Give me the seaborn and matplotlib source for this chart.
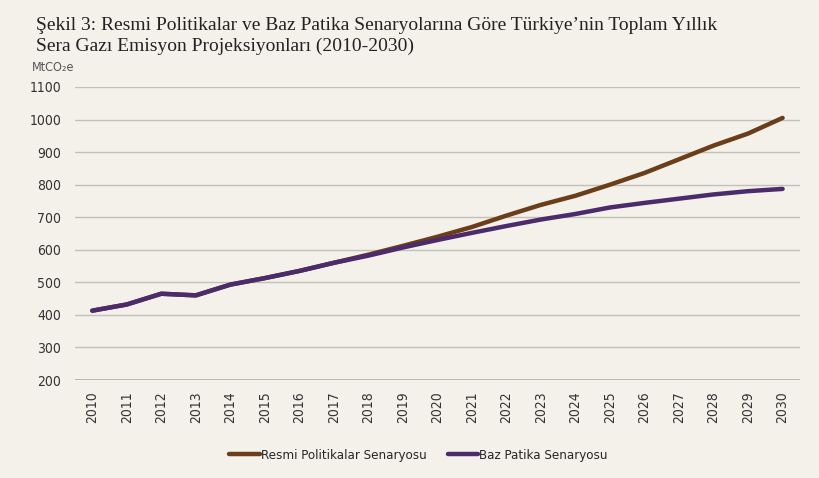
import matplotlib
matplotlib.use("Agg")
import matplotlib.pyplot as plt
import pandas as pd
import seaborn as sns

# Data (MtCO2e)
years = list(range(2010, 2031))
resmi = [413, 432, 465, 460, 493, 513, 535, 560, 585, 612, 640,
         670, 705, 738, 766, 800, 836, 878, 920, 957, 1005]
baz = [413, 432, 465, 460, 493, 513, 535, 560, 582, 607, 630,
       652, 673, 693, 710, 730, 744, 757, 770, 780, 787]
series_names = ['Resmi Politikalar Senaryosu', 'Baz Patika Senaryosu']
y_ticks = [200, 300, 400, 500, 600, 700, 800, 900, 1000, 1100]

bg = '#f3f1e9'
colors = ['#6b3d18', '#4b2b6b']
sns.set_theme(style='white', rc={'figure.facecolor': bg, 'axes.facecolor': bg})
plt.rcParams['font.family'] = ['DejaVu Sans']
plt.rcParams['font.stretch'] = 'condensed'

df = pd.DataFrame({
    'year': years * 2,
    'value': resmi + baz,
    'scenario': [series_names[0]] * len(years) + [series_names[1]] * len(years),
})

fig = plt.figure(figsize=(8.19, 4.78), dpi=100)
ax = fig.add_axes([0.0916, 0.205, 0.885, 0.613])

sns.lineplot(data=df, x='year', y='value', hue='scenario', hue_order=series_names,
             palette=colors, linewidth=3.2, ax=ax, legend=False,
             solid_capstyle='round')

ax.set_xlim(2009.5, 2030.5)
ax.set_ylim(200, 1100)
ax.set_yticks(y_ticks)
ax.set_xticks(years)
ax.set_xticklabels([str(y) for y in years], rotation=90, fontsize=10, color='#333333')
ax.set_yticklabels([str(v) for v in y_ticks], fontsize=10, color='#333333')
ax.tick_params(axis='x', length=0, pad=8)
ax.tick_params(axis='y', length=0, pad=10)
# horizontal grid, darker base line at 200
for v in y_ticks[1:]:
    ax.axhline(v, color='#c2c0ba', lw=1, zorder=0)
ax.axhline(200, color='#a8a6a1', lw=1.8, zorder=0)
sns.despine(ax=ax, left=True, bottom=True)
ax.set_xlabel('')
ax.set_ylabel('')

fig.text(0.039, 0.852, 'MtCO₂e', fontsize=9, color='#555555')
fig.text(0.044, 0.885, 'Şekil 3: Resmi Politikalar ve Baz Patika Senaryolarına Göre Türkiye’nin Toplam Yıllık\n'
         'Sera Gazı Emisyon Projeksiyonları (2010-2030)',
         fontsize=14, family=['Liberation Serif', 'DejaVu Serif'], stretch='normal',
         color='#222222', linespacing=1.25, va='bottom')

handles = [plt.Line2D([], [], color=c, lw=3.2) for c in colors]
fig.legend(handles, series_names, loc='center', bbox_to_anchor=(0.511, 0.048), ncol=2,
           frameon=False, fontsize=9.5, handlelength=2.3, handletextpad=0.1, columnspacing=1.6)

fig.savefig('out.png', dpi=100, facecolor=bg)
